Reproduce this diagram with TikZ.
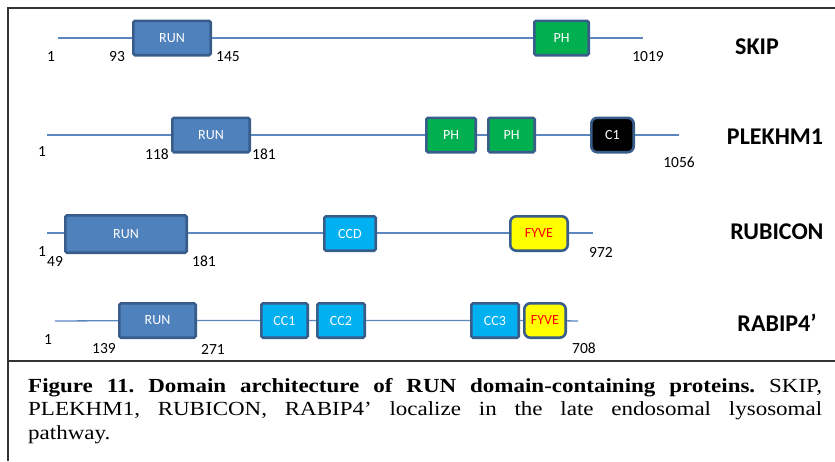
\documentclass[tikz,border=0pt]{standalone}
\usepackage{fontspec}
\setmainfont{Liberation Serif}
\newfontfamily\calibri{Carlito}
\newfontfamily\capfont[FakeStretch=1.15]{Liberation Serif}
\usetikzlibrary{positioning}
\definecolor{domRun}{HTML}{4F81BD}
\definecolor{domPH}{HTML}{00B050}
\definecolor{domCC}{HTML}{00B0F0}
\definecolor{domFYVE}{HTML}{FFFF00}
\definecolor{domEdge}{HTML}{385D8A}
\definecolor{domLine}{HTML}{5B86C0}
\definecolor{domFrame}{HTML}{333333}

\begin{document}
\begin{tikzpicture}[x=1pt,y=-1pt,
  dombox/.style={draw=domEdge, line width=2.6pt, rounded corners=1.5pt,
    inner sep=0pt, text=white, minimum height=34.4pt,
    font=\calibri\fontsize{14}{15}\selectfont},
  rnd/.style={rounded corners=6pt},
  backbone/.style={domLine, line width=1.3pt},
  aanum/.style={inner sep=0pt, font=\calibri\fontsize{15.5}{16}\selectfont},
  protname/.style={inner sep=0pt, font=\calibri\bfseries\fontsize{24}{26}\selectfont},
  boxframe/.style={domFrame, line width=2pt}]
  \useasboundingbox (0,0) rectangle (835,461);

  % frame
  \draw[boxframe] (835,8) -- (8,8) -- (8,461);
  \draw[boxframe] (8,361) -- (835,361);

  % SKIP
  \coordinate (s1) at (58,38);
  \coordinate (e1) at (643,38);
  \node[dombox, fill=domRun, minimum width=77.4pt] (run1) at (172,38) {RUN};
  \node[dombox, fill=domPH, minimum width=54.4pt] (ph1) at (561.5,38) {PH};
  \draw[backbone] (s1) -- (run1) -- (ph1) -- (e1);
  \node[aanum] (a1) at (51,57) {1};
  \node[aanum] (b1) at (117,57) {93};
  \node[aanum] (c1) at (228,57) {145};
  \node[aanum] (z1) at (648,57) {1019};
  \node[protname] (skip) at (757,47) {SKIP};

  % PLEKHM1
  \coordinate (s2) at (47,135);
  \coordinate (e2) at (679,135);
  \node[dombox, fill=domRun, minimum width=77.4pt] (run2) at (211,135) {RUN};
  \node[dombox, fill=domPH, minimum width=49.4pt] (ph2a) at (451,135) {PH};
  \node[dombox, fill=domPH, minimum width=46.4pt] (ph2b) at (511.5,135) {PH};
  \node[dombox, rnd, fill=black, minimum width=42.4pt] (c1d) at (612.5,135) {C1};
  \draw[backbone] (s2) -- (run2) -- (ph2a) -- (ph2b) -- (c1d) -- (e2);
  \node[aanum] (a2) at (42,152) {1};
  \node[aanum] (b2) at (157,154) {118};
  \node[aanum] (c2) at (264,154) {181};
  \node[aanum] (z2) at (679,162) {1056};
  \node[protname] (plekhm) at (775,137) {PLEKHM1};

  % RUBICON
  \coordinate (s3) at (47,233);
  \coordinate (e3) at (593,233);
  \node[dombox, fill=domRun, minimum width=121.4pt, minimum height=37.4pt] (run3) at (126,234) {RUN};
  \node[dombox, fill=domCC, minimum width=51.4pt] (ccd) at (350,233.5) {CCD};
  \node[dombox, rnd, fill=domFYVE, text=red, minimum width=57.4pt] (fyve3) at (539,233.5) {FYVE};
  \draw[backbone] (s3) -- (run3.west |- s3);
  \draw[backbone] (run3.east |- s3) -- (ccd.west |- s3);
  \draw[backbone] (ccd.east |- s3) -- (fyve3.west |- s3);
  \draw[backbone] (fyve3.east |- s3) -- (e3);
  \node[aanum] (a3) at (42,252) {1};
  \node[aanum] (b3) at (55,261) {49};
  \node[aanum] (c3) at (204,261) {181};
  \node[aanum] (z3) at (601,252) {972};
  \node[protname] (rubicon) at (777,232) {RUBICON};

  % RABIP4'
  \coordinate (s4) at (55,321);
  \coordinate (e4) at (578,321);
  \node[dombox, fill=domRun, minimum width=76.4pt] (run4) at (157.5,320.5) {RUN};
  \node[dombox, fill=domCC, minimum width=46.4pt] (cc1) at (284.5,320.5) {CC1};
  \node[dombox, fill=domCC, minimum width=47.4pt] (cc2) at (341,320.5) {CC2};
  \node[dombox, fill=domCC, minimum width=47.4pt] (cc3) at (495,320.5) {CC3};
  \node[dombox, rnd, fill=domFYVE, text=red, minimum width=41.4pt] (fyve4) at (545,320.5) {FYVE};
  \draw[backbone] (s4) -- (run4) -- (cc1) -- (cc2) -- (cc3) -- (fyve4) -- (e4);
  \node[aanum] (a4) at (48,340) {1};
  \node[aanum] (b4) at (104,349) {139};
  \node[aanum] (c4) at (213,349) {271};
  \node[aanum] (z4) at (584,348) {708};
  \node[protname] (rabip) at (777,323) {RABIP4’};

  % caption
  \node[anchor=base west, inner sep=0pt, text width=794pt, align=justify,
    font=\capfont\fontsize{20}{23.5}\selectfont\frenchspacing] (cap) at (28,392)
    {\textbf{Figure 11. Domain architecture of RUN domain-containing proteins.} SKIP,\linebreak
     PLEKHM1, RUBICON, RABIP4’ localize in the late endosomal lysosomal\linebreak
     pathway.};
\end{tikzpicture}
\end{document}
